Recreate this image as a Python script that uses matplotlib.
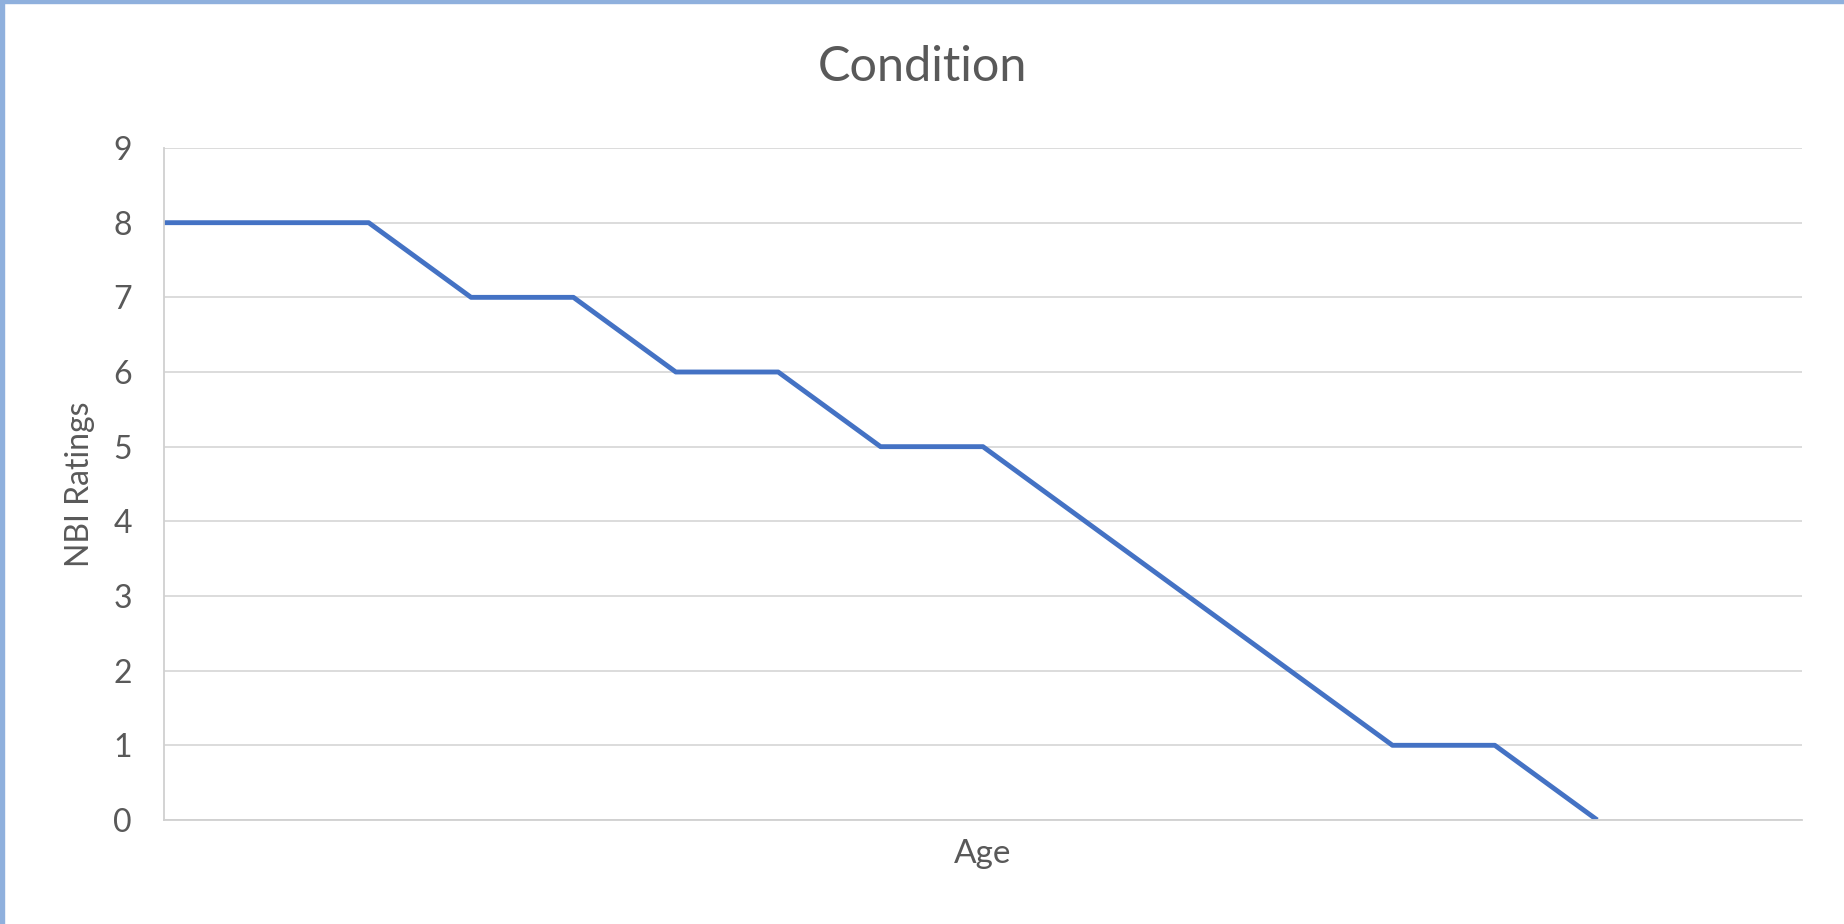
import numpy as np
import matplotlib.pyplot as plt
from matplotlib.patches import Rectangle

# age categories (no labels shown on the axis), 17 slots, last two empty
ages = list(range(17))
ratings = [8, 8, 8, 7, 7, 6, 6, 5, 5, 4, 3, 2, 1, 1, 0, np.nan, np.nan]
yticks = list(range(10))

plt.rcParams['font.family'] = ['Lato', 'DejaVu Sans']

fig = plt.figure(figsize=(18.44, 9.24), dpi=100)
ax = fig.add_axes([0.0889, 0.1126, 0.8883, 0.7272])

ax.plot(ages, ratings, color='#4472C4', linewidth=3.5, solid_capstyle='butt')

ax.set_xlim(0, 16)
ax.set_ylim(0, 9)
ax.set_yticks(yticks)
ax.set_xticks([])
ax.grid(axis='y', color='#d9d9d9', linewidth=1.3)
ax.set_axisbelow(True)
for side in ['top', 'right']:
    ax.spines[side].set_visible(False)
for side in ['left', 'bottom']:
    ax.spines[side].set_color('#d0d0d0')
    ax.spines[side].set_linewidth(1.3)
ax.tick_params(axis='y', length=0, pad=23, labelsize=23, labelcolor='#595959')

ax.set_ylabel('NBI Ratings', fontsize=23, color='#595959', va='center')
ax.yaxis.set_label_coords(-0.0513, 0.5)
ax.set_xlabel('Age', fontsize=24, color='#595959', va='center')
ax.xaxis.set_label_coords(0.5, -0.05)
fig.text(0.5, 0.9275, 'Condition', ha='center', va='center', fontsize=35, color='#595959')

# window frame around the chart
fig.patches.append(Rectangle((0, 0.9965), 1, 0.0035, transform=fig.transFigure,
                             color='#8fb0dd', zorder=0))
fig.patches.append(Rectangle((0, 0), 0.002, 1, transform=fig.transFigure,
                             color='#8fb0dd', zorder=0))

fig.savefig('out.png', dpi=100)
